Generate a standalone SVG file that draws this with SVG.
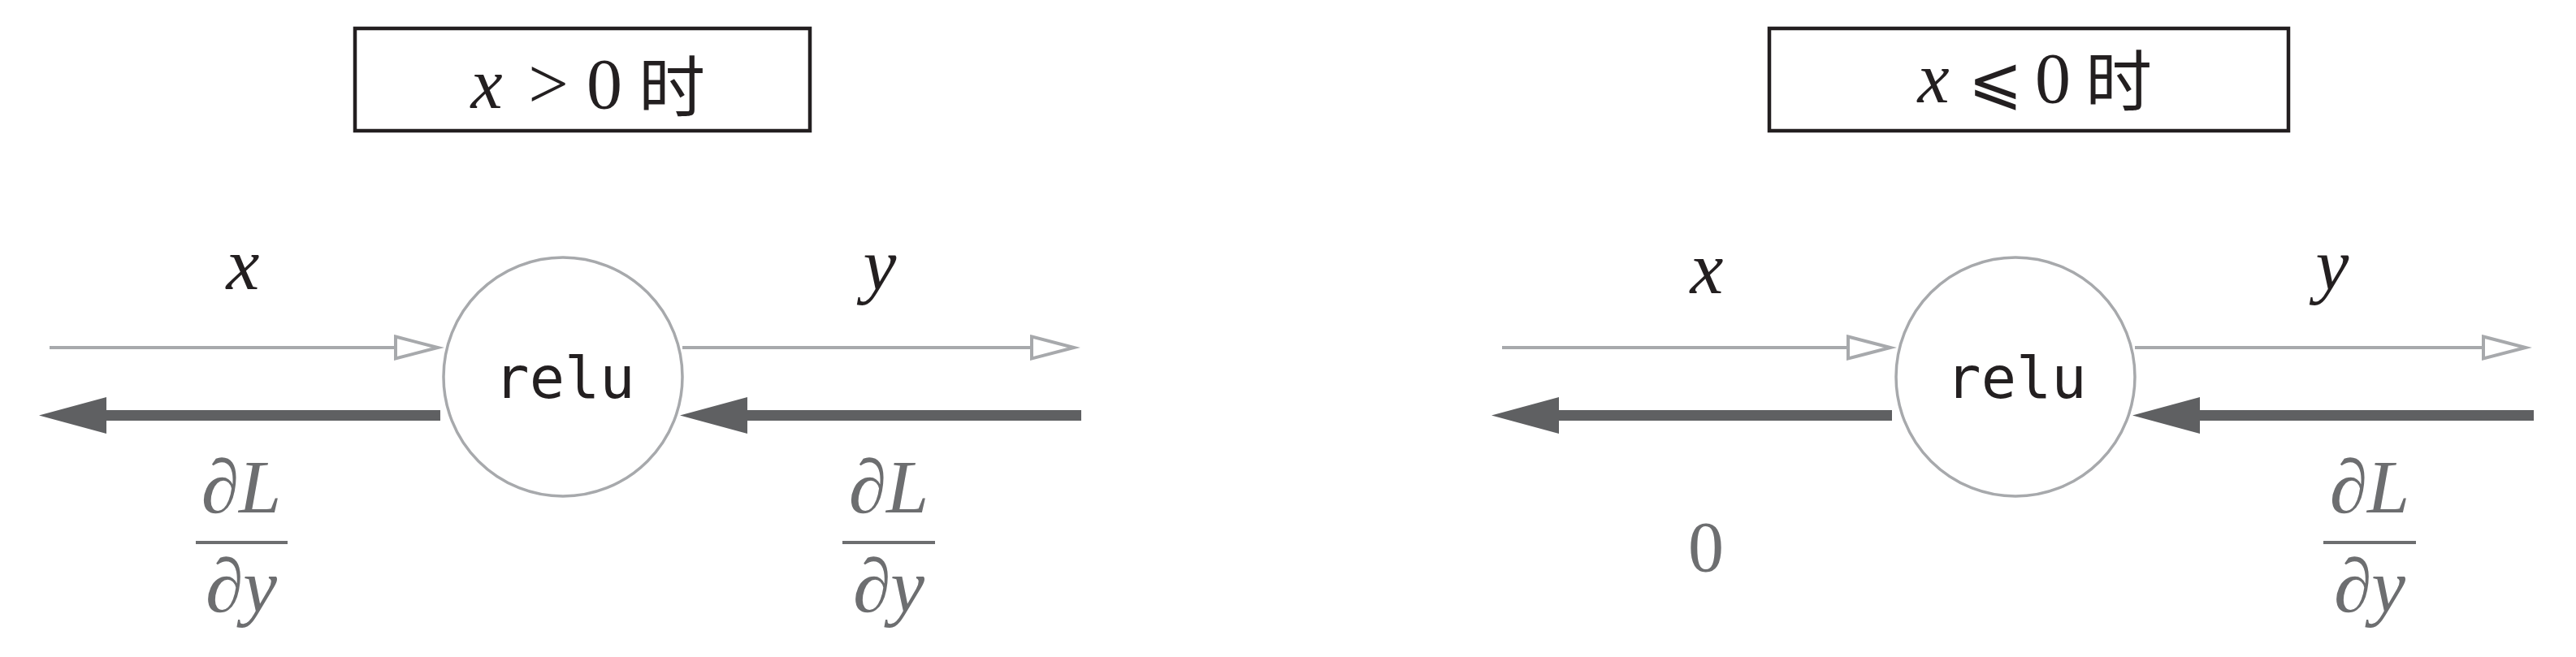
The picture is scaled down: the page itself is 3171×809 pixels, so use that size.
<svg xmlns="http://www.w3.org/2000/svg" width="3171" height="809" viewBox="0 0 3171 809">
<style>
.bg{fill:#ffffff}
.box{fill:#ffffff;stroke:#231f20;stroke-width:4.5}
.node{fill:#ffffff;stroke:#a7a9ac;stroke-width:3.5}
.fwd{stroke:#a7a9ac;stroke-width:4;fill:none}
.bwd{stroke:#5f6062;stroke-width:13;fill:none}
.math{font-family:"Liberation Serif","DejaVu Serif",serif;font-style:italic;font-size:88px;fill:#231f20;text-anchor:middle}
.lbl{font-size:92px}
.frac{font-size:94px}
.up{font-style:normal}
.cjk{font-family:"Noto Sans CJK SC",sans-serif;font-style:normal;font-size:82px}
.grad{fill:#6d6e70}
.mono{font-family:"DejaVu Sans Mono","Liberation Mono",monospace;font-size:72px;fill:#231f20;text-anchor:middle}
.bar{fill:#6d6e70}
</style>
<defs>
<marker id="open" markerUnits="userSpaceOnUse" viewBox="-6 -20 70 40" markerWidth="70" markerHeight="40" refX="52" refY="0" orient="auto" overflow="visible">
<path d="M0,-13.5 L52,0 L0,13.5 Z" fill="#ffffff" stroke="#a7a9ac" stroke-width="4" stroke-linejoin="miter" stroke-miterlimit="10"/>
</marker>
<marker id="solid" markerUnits="userSpaceOnUse" viewBox="0 -25 86 50" markerWidth="86" markerHeight="50" refX="0" refY="0" orient="auto" overflow="visible">
<path d="M0,-22.5 L83,0 L0,22.5 Z" fill="#5f6062"/>
</marker>
</defs>
<rect class="bg" x="0" y="0" width="3171" height="809"/>

<g id="title-left">
<rect class="box" x="437" y="35" width="560" height="126"/>
<text class="math" y="133"><tspan x="599">x</tspan><tspan class="up" x="675">&gt;</tspan><tspan class="up" x="744">0</tspan><tspan class="cjk" x="827" y="137">时</tspan></text>
</g>

<g id="title-right">
<rect class="box" x="2178" y="35" width="639" height="126"/>
<text class="math" y="126"><tspan x="2380">x</tspan><tspan class="up" x="2456" style="font-family:'DejaVu Serif','DejaVu Sans',serif;font-size:80px">⩽</tspan><tspan class="up" x="2527">0</tspan><tspan class="cjk" x="2608" y="130">时</tspan></text>
</g>

<g id="connectors">
<line class="fwd" x1="61" y1="428" x2="539" y2="428" marker-end="url(#open)"/>
<line class="fwd" x1="840" y1="428" x2="1322" y2="428" marker-end="url(#open)"/>
<line class="bwd" x1="542" y1="511.5" x2="131" y2="511.5" marker-end="url(#solid)"/>
<line class="bwd" x1="1331" y1="511.5" x2="920" y2="511.5" marker-end="url(#solid)"/>
<line class="fwd" x1="1849" y1="428" x2="2327" y2="428" marker-end="url(#open)"/>
<line class="fwd" x1="2628" y1="428" x2="3109" y2="428" marker-end="url(#open)"/>
<line class="bwd" x1="2329" y1="511.5" x2="1919" y2="511.5" marker-end="url(#solid)"/>
<line class="bwd" x1="3119" y1="511.5" x2="2708" y2="511.5" marker-end="url(#solid)"/>
</g>

<g id="relu-left">
<circle class="node" cx="693" cy="464" r="147"/>
<text class="mono" x="695" y="490">relu</text>
</g>

<g id="relu-right">
<circle class="node" cx="2481" cy="464" r="147"/>
<text class="mono" x="2482" y="490">relu</text>
</g>

<g id="labels-left">
<text class="math lbl" x="299" y="356">x</text>
<text class="math lbl" x="1083" y="357">y</text>
<g id="grad-left-in">
<text class="math frac grad" x="297" y="631">∂L</text>
<rect class="bar" x="241" y="666" width="113" height="4"/>
<text class="math frac grad" x="297" y="753">∂y</text>
</g>
<g id="grad-left-out">
<text class="math frac grad" x="1094" y="631">∂L</text>
<rect class="bar" x="1037" y="666" width="114" height="4"/>
<text class="math frac grad" x="1094" y="753">∂y</text>
</g>
</g>

<g id="labels-right">
<text class="math lbl" x="2101" y="361">x</text>
<text class="math lbl" x="2871" y="357">y</text>
<text class="math up grad" x="2100" y="703">0</text>
<g id="grad-right-out">
<text class="math frac grad" x="2917" y="631">∂L</text>
<rect class="bar" x="2860" y="666" width="114" height="4"/>
<text class="math frac grad" x="2917" y="753">∂y</text>
</g>
</g>
</svg>
